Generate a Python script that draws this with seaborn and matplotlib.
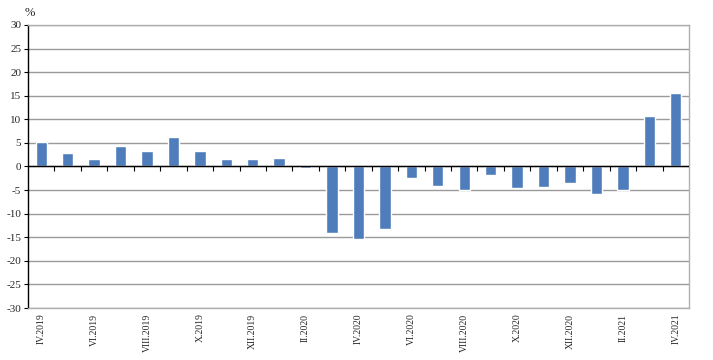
import matplotlib
matplotlib.use("Agg")
import pandas as pd
import matplotlib.pyplot as plt
import seaborn as sns

# monthly change, %
months = ["IV.2019", "V.2019", "VI.2019", "VII.2019", "VIII.2019", "IX.2019",
          "X.2019", "XI.2019", "XII.2019", "I.2020", "II.2020", "III.2020",
          "IV.2020", "V.2020", "VI.2020", "VII.2020", "VIII.2020", "IX.2020",
          "X.2020", "XI.2020", "XII.2020", "I.2021", "II.2021", "III.2021",
          "IV.2021"]
values = [5.2, 2.8, 1.5, 4.3, 3.2, 6.2,
          3.2, 1.5, 1.5, 1.8, -0.3, -14.0,
          -15.4, -13.2, -2.4, -4.1, -5.0, -1.8,
          -4.6, -4.4, -3.5, -5.8, -5.0, 10.8,
          15.5]
y_ticks = list(range(-30, 31, 5))

df = pd.DataFrame({"month": months, "value": values})

sns.set_style("white")
plt.rcParams["font.family"] = ["Liberation Serif", "DejaVu Serif"]

fig = plt.figure(figsize=(7.13, 3.6), dpi=100)
ax = fig.add_axes([0.0393, 0.1444, 0.927, 0.7862])

sns.barplot(data=df, x="month", y="value", color="#4f7dbb", saturation=1,
            width=0.43, ax=ax, zorder=3)

ax.set_ylim(-30, 30)
ax.set_xlim(-0.5, len(months) - 0.5)
ax.set_yticks(y_ticks)
ax.set_yticklabels([str(t) for t in y_ticks], fontsize=8)
ax.yaxis.grid(True, color="#9a9a9a", linewidth=1)
ax.set_axisbelow(True)

# every other month labelled
pos = list(range(0, len(months), 2))
ax.set_xticks(pos)
ax.set_xticklabels([months[i] for i in pos], rotation=90, fontsize=7)
ax.tick_params(axis="x", length=0, pad=4)
ax.tick_params(axis="y", length=3, width=0.8, color="black", left=True, pad=2)

ax.set_xlabel("")
ax.set_ylabel("")

for s in ["top", "right", "bottom"]:
    ax.spines[s].set_color("#b0b0b0")
    ax.spines[s].set_linewidth(1)
ax.spines["left"].set_color("black")
ax.spines["left"].set_linewidth(1)

# zero axis line with category boundary ticks
ax.axhline(0, color="black", linewidth=1, zorder=4)
bounds = [i + 0.5 for i in range(len(months) - 1)]
ax.vlines(bounds, -0.9, 0, color="black", linewidth=0.8, zorder=4)

fig.text(0.035, 0.955, "%", fontsize=9)

fig.savefig("out.png", dpi=100)
